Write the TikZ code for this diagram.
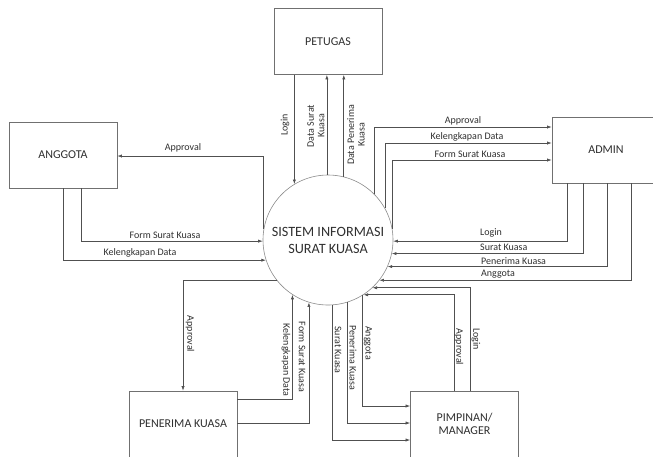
\documentclass[tikz,border=0pt]{standalone}
\usepackage{fontspec}
\setmainfont{Carlito}
\usetikzlibrary{arrows.meta,calc}
\definecolor{linec}{HTML}{505050}
\definecolor{boxc}{HTML}{707070}
\definecolor{txtc}{HTML}{303030}
\begin{document}
\begin{tikzpicture}[x=1pt,y=-1pt,
  ent/.style={draw=boxc,line width=0.7pt,minimum width=108pt,minimum height=66pt,inner sep=0pt,font=\fontsize{12}{13}\selectfont,text=txtc,align=center},
  proc/.style={draw=boxc!80,line width=0.6pt,circle,minimum size=130pt,inner sep=0pt,font=\fontsize{14.2}{17}\selectfont,text=txtc,align=center},
  flow/.style={draw=linec,line width=0.65pt,-{Latex[length=4.5pt,width=3.2pt]}},
  lbl/.style={font=\fontsize{10}{10.5}\selectfont,text=txtc,inner sep=1pt,align=center}]
\useasboundingbox (0,0) rectangle (653,456);
\fill[white] (0,0) rectangle (653,456);
% entities
\node[ent] (pet) at (328,41.5) {PETUGAS};
\node[ent] (ang) at (63,155) {ANGGOTA};
\node[ent] (adm) at (606,150) {ADMIN};
\node[ent] (pen) at (183,424) {PENERIMA KUASA};
\node[ent] (pim) at (464.5,424) {PIMPINAN/\\MANAGER};
\node[proc] (sis) at (328,240) {SISTEM INFORMASI\\SURAT KUASA};
% PETUGAS flows
\draw[flow] (pet.south -| sis.121.5) -- (sis.121.5);
\draw[flow] (sis.91) -- (pet.south -| sis.91);
\draw[flow] (sis.76) -- (pet.south -| sis.76);
\node[lbl,rotate=90] (l1) at (285,125) {Login};
\node[lbl,rotate=90] (l2) at (316,126) {Data Surat\\Kuasa};
\node[lbl,rotate=90] (l3) at (356,135) {Data Penerima\\Kuasa};
% ANGGOTA flows
\draw[flow] (sis.170) |- ([yshift=-1pt]ang.east);
\draw[flow] ([xshift=18pt]ang.south) |- (sis.181);
\draw[flow] (ang.south) |- (sis.198);
\node[lbl] (l4) at (183,148) {Approval};
\node[lbl] (l5) at (165,235) {Form Surat Kuasa};
\node[lbl] (l6) at (140,253) {Kelengkapan Data};
% ADMIN flows in
\draw[flow] (sis.45) |- ([yshift=23pt]adm.west);
\draw[flow] (sis.29) |- ([yshift=7pt]adm.west);
\draw[flow] (sis.10) |- ([yshift=-10pt]adm.west);
\node[lbl] (l7) at (463,121) {Approval};
\node[lbl] (l8) at (467,137) {Kelengkapan Data};
\node[lbl] (l9) at (470,154) {Form Surat Kuasa};
% ADMIN flows out
\draw[flow] ([xshift=-39pt]adm.south) |- (sis.-1);
\draw[flow] ([xshift=-23pt]adm.south) |- (sis.-12.4);
\draw[flow] ([xshift=1pt]adm.south) |- (sis.-24.5);
\draw[flow] ([xshift=25pt]adm.south) |- (sis.-38);
\node[lbl,anchor=west] (l10) at (479,233) {Login};
\node[lbl,anchor=west] (l11) at (479,247.5) {Surat Kuasa};
\node[lbl,anchor=west] (l12) at (480,261.5) {Penerima Kuasa};
\node[lbl,anchor=west] (l13) at (480,274) {Anggota};
% PENERIMA KUASA flows
\draw[flow] (sis.218) -| (pen.north);
\draw[flow] ([yshift=25pt]pen.east) -| (sis.-123.6);
\draw[flow] ([yshift=1pt]pen.east) -| (sis.-107);
\node[lbl,rotate=-90] (l14) at (190,334) {Approval};
\node[lbl,rotate=-90] (l15) at (286,360) {Kelengkapan Data};
\node[lbl,rotate=-90] (l16) at (302,357) {Form Surat Kuasa};
% PIMPINAN flows
\draw[flow] (sis.-58.5) |- ([yshift=18pt]pim.west);
\draw[flow] (sis.-73) |- ([yshift=1pt]pim.west);
\draw[flow] (sis.-86.5) |- ([yshift=-16pt]pim.west);
\draw[flow] ([xshift=-10.5pt]pim.north) |- (sis.-57.8);
\draw[flow] ([xshift=5.5pt]pim.north) |- (sis.-47.6);
\node[lbl,rotate=-90] (l17) at (338,350) {Surat Kuasa};
\node[lbl,rotate=-90] (l18) at (353,358) {Penerima Kuasa};
\node[lbl,rotate=-90] (l19) at (368,343) {Anggota};
\node[lbl,rotate=-90] (l20) at (459,347) {Approval};
\node[lbl,rotate=-90] (l21) at (476,339) {Login};
\end{tikzpicture}
\end{document}
